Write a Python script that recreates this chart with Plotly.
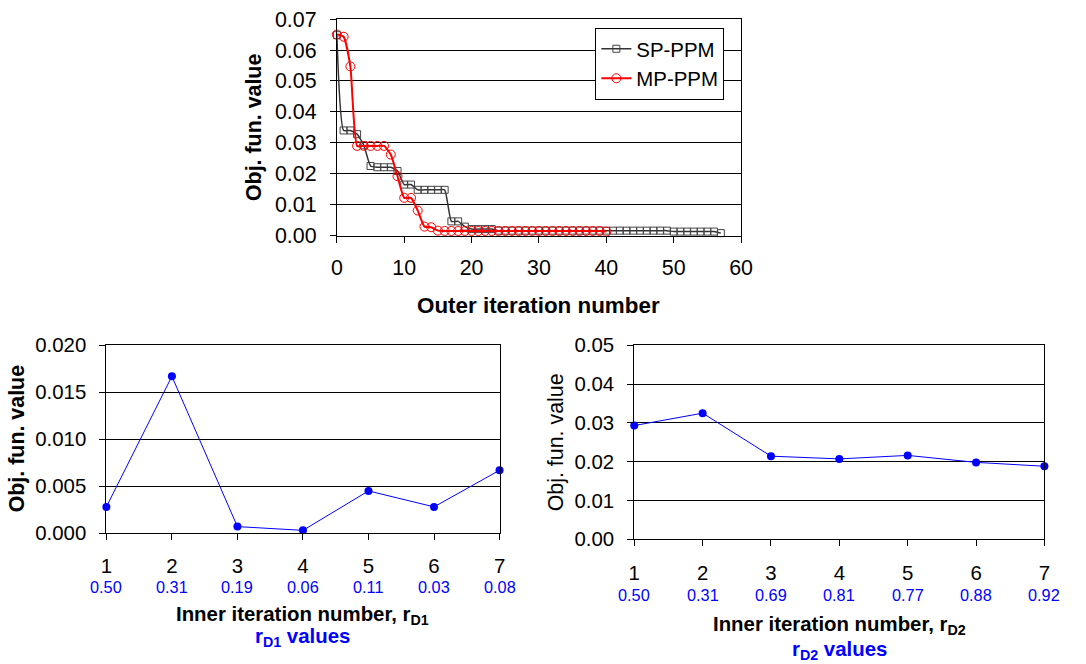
import plotly.graph_objects as go

# Outer iterations: objective function value per outer iteration
sp_iter = list(range(0, 58))
sp_vals = [
    0.0648, 0.0340, 0.0340, 0.0328, 0.0292, 0.0225, 0.0221, 0.0221, 0.0221, 0.0209,
    0.0165, 0.0165, 0.0148, 0.0148, 0.0148, 0.0148, 0.0148, 0.0046, 0.0046, 0.0029,
    0.0021, 0.0021, 0.0021, 0.0021, 0.0016, 0.0016, 0.0016, 0.0016, 0.0016, 0.0016,
    0.0016, 0.0016, 0.0016, 0.0016, 0.0016, 0.0016, 0.0016, 0.0016, 0.0016, 0.0016,
    0.0016, 0.0016, 0.0016, 0.0016, 0.0016, 0.0016, 0.0016, 0.0016, 0.0016, 0.0016,
    0.0013, 0.0013, 0.0013, 0.0013, 0.0013, 0.0013, 0.0013, 0.0008,
]
mp_iter = list(range(0, 41))
mp_vals = [
    0.0650, 0.0643, 0.0547, 0.0290, 0.0290, 0.0290, 0.0290, 0.0290, 0.0262, 0.0192,
    0.0122, 0.0122, 0.0081, 0.0029, 0.0027, 0.0016, 0.0015, 0.0015, 0.0015, 0.0015,
    0.0015, 0.0015, 0.0015, 0.0015, 0.0015, 0.0015, 0.0015, 0.0015, 0.0015, 0.0015,
    0.0015, 0.0015, 0.0015, 0.0015, 0.0015, 0.0015, 0.0015, 0.0015, 0.0015, 0.0015,
    0.0013,
]

# Inner iterations
inner_iter = [1, 2, 3, 4, 5, 6, 7]
rd1_obj = [0.0028, 0.0167, 0.0007, 0.0003, 0.0045, 0.0028, 0.0067]
rd1_vals = [0.50, 0.31, 0.19, 0.06, 0.11, 0.03, 0.08]
rd2_obj = [0.0293, 0.0325, 0.0214, 0.0207, 0.0216, 0.0198, 0.0188]
rd2_vals = [0.50, 0.31, 0.69, 0.81, 0.77, 0.88, 0.92]

FONT = "Liberation Sans, Arial, sans-serif"
BLUE = "#0000ff"
W, H = 1086, 664
PAD = 8                       # default body margin around the figure
SX = (W + 2 * PAD) / W        # page-to-figure scale, horizontal
SY = (H + 2 * PAD) / H        # page-to-figure scale, vertical
FS = (SX + SY) / 2
NUDGE_X = 2.5                 # small horizontal offset of the whole layout


def fx(x):
    return x * SX - PAD + NUDGE_X


def fy(y):
    return y * SY - PAD


def px_dom_x(a, b):
    return [fx(a) / W, fx(b) / W]


def px_dom_y(top, bottom):
    return [1 - fy(bottom) / H, 1 - fy(top) / H]


def font(size, color="black"):
    return dict(family=FONT, size=round(size * FS, 1), color=color)


fig = go.Figure()

fig.add_trace(go.Scatter(
    x=sp_iter, y=sp_vals, name="SP-PPM", mode="lines+markers",
    line=dict(color="#333333", width=1.5, shape="spline", smoothing=0.5),
    marker=dict(symbol="square-open", size=7, color="#444444", line=dict(width=1)),
    xaxis="x", yaxis="y", cliponaxis=False,
))
fig.add_trace(go.Scatter(
    x=mp_iter, y=mp_vals, name="MP-PPM", mode="lines+markers",
    line=dict(color="#ff0000", width=2, shape="spline", smoothing=0.5),
    marker=dict(symbol="circle-open", size=9, color="#ff0000", line=dict(width=1)),
    xaxis="x", yaxis="y", cliponaxis=False,
))
fig.add_trace(go.Scatter(
    x=inner_iter, y=rd1_obj, mode="lines+markers", showlegend=False,
    line=dict(color=BLUE, width=1), marker=dict(size=8, color=BLUE),
    xaxis="x2", yaxis="y2", cliponaxis=False,
))
fig.add_trace(go.Scatter(
    x=inner_iter, y=rd2_obj, mode="lines+markers", showlegend=False,
    line=dict(color=BLUE, width=1), marker=dict(size=8, color=BLUE),
    xaxis="x3", yaxis="y3", cliponaxis=False,
))

axis_common = dict(
    showline=True, linecolor="black", linewidth=1, mirror=True,
    ticks="outside", ticklen=6, tickcolor="black",
    zeroline=False, fixedrange=True,
)
xaxis_common = dict(axis_common, showgrid=False)
yaxis_common = dict(axis_common, showgrid=True, gridcolor="black", gridwidth=1)

fig.update_layout(
    width=W, height=H, autosize=False, margin=dict(l=0, r=0, t=0, b=0),
    paper_bgcolor="white", plot_bgcolor="white",
    font=dict(family=FONT, color="black"),
    showlegend=True,
    legend=dict(
        x=fx(596) / W, y=1 - fy(25) / H, xanchor="left", yanchor="top",
        bgcolor="white", bordercolor="black", borderwidth=1,
        font=font(20), itemwidth=30, tracegroupgap=0,
    ),
    xaxis=dict(xaxis_common, domain=px_dom_x(337, 742), range=[0, 60],
               tickvals=[0, 10, 20, 30, 40, 50, 60],
               anchor="y", ticklabelstandoff=7, tickfont=font(21)),
    yaxis=dict(yaxis_common, domain=px_dom_y(16, 235), range=[0, 0.07],
               dtick=0.01, tickformat=".2f", anchor="x", ticklabelstandoff=9,
               tickfont=font(21)),
    xaxis2=dict(xaxis_common, domain=px_dom_x(106, 500), range=[1, 7],
                tickvals=inner_iter, anchor="y2",
                ticklabelstandoff=8, tickfont=font(20)),
    yaxis2=dict(yaxis_common, domain=px_dom_y(346, 536), range=[0, 0.020],
                dtick=0.005, tickformat=".3f", anchor="x2", ticklabelstandoff=9,
                tickfont=font(20)),
    xaxis3=dict(xaxis_common, domain=px_dom_x(635, 1046), range=[1, 7],
                tickvals=inner_iter, anchor="y3",
                ticklabelstandoff=9, tickfont=font(20)),
    yaxis3=dict(yaxis_common, domain=px_dom_y(346, 542), range=[0, 0.05],
                dtick=0.01, tickformat=".2f", anchor="x3", ticklabelstandoff=9,
                tickfont=font(20)),
)

annotations = []

# r values under the inner iteration ticks
for ax, vals, shift in (("2", rd1_vals, 53), ("3", rd2_vals, 55)):
    for i, v in zip(inner_iter, vals):
        annotations.append(dict(
            x=i, xref="x" + ax, y=0, yref="y" + ax + " domain",
            yshift=-shift * SY, yanchor="middle", xanchor="center",
            text=f"{v:.2f}", showarrow=False, font=font(16, BLUE),
        ))

# axis titles
annotations += [
    dict(x=0.5, xref="x domain", y=0, yref="y domain", yshift=-68 * SY,
         text="<b>Outer iteration number</b>", showarrow=False, yanchor="middle",
         font=font(22)),
    dict(x=0, xref="x domain", y=0.5, yref="y domain", xshift=-81 * SX,
         text="<b>Obj. fun. value</b>", textangle=-90, showarrow=False,
         xanchor="center", font=font(21)),
    dict(x=0.5, xref="x2 domain", y=0, yref="y2 domain", yshift=-80 * SY,
         text="<b>Inner iteration number, r<sub>D1</sub></b>", showarrow=False,
         yanchor="middle", font=font(20)),
    dict(x=0.5, xref="x2 domain", y=0, yref="y2 domain", yshift=-102 * SY,
         text="<b>r<sub>D1</sub> values</b>", showarrow=False,
         yanchor="middle", font=font(20, BLUE)),
    dict(x=0, xref="x2 domain", y=0.5, yref="y2 domain", xshift=-88 * SX,
         text="<b>Obj. fun. value</b>", textangle=-90, showarrow=False,
         xanchor="center", font=font(21)),
    dict(x=0.5, xref="x3 domain", y=0, yref="y3 domain", yshift=-84 * SY,
         text="<b>Inner iteration number, r<sub>D2</sub></b>", showarrow=False,
         yanchor="middle", font=font(20)),
    dict(x=0.5, xref="x3 domain", y=0, yref="y3 domain", yshift=-109 * SY,
         text="<b>r<sub>D2</sub> values</b>", showarrow=False,
         yanchor="middle", font=font(20, BLUE)),
    dict(x=0, xref="x3 domain", y=0.5, yref="y3 domain", xshift=-77 * SX,
         text="Obj. fun. value", textangle=-90, showarrow=False,
         xanchor="center", font=font(21)),
]
fig.update_layout(annotations=annotations)

fig.write_html("out.html", config={"displayModeBar": False})
